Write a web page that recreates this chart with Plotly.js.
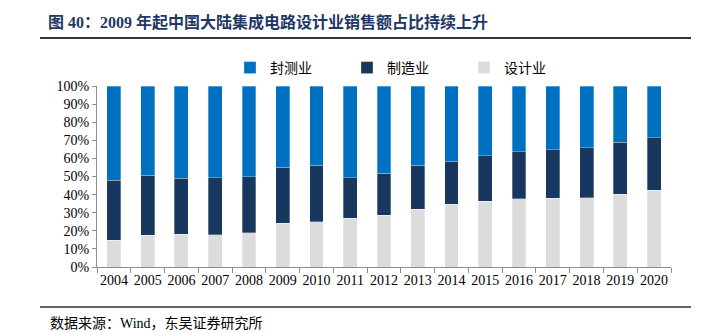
<!DOCTYPE html>
<html>
<head>
<meta charset="utf-8">
<script src="https://cdn.plot.ly/plotly-3.0.1.min.js"></script>
<style>html,body{margin:0;padding:0;background:#fff;}#chart{width:701px;height:333px;}</style>
</head>
<body>
<div id="chart"></div>
<script>
const years = ['2004','2005','2006','2007','2008','2009','2010','2011','2012','2013','2014','2015','2016','2017','2018','2019','2020'];
// shares in percent
const design = [14.7,17.5,18.2,17.8,18.8,24.3,25.0,27.0,28.7,32.0,34.6,36.4,37.7,38.1,38.4,40.3,42.5];
const manufacturing = [33.1,33.1,30.9,31.6,31.2,30.7,31.1,22.4,23.0,24.1,23.7,25.2,26.1,26.8,27.6,28.5,29.0];
const packaging = [52.2,49.4,50.9,50.6,50.0,45.0,43.9,50.6,48.3,43.9,41.7,38.4,36.2,35.1,34.0,31.2,28.5];

const names = ['设计业','制造业','封测业'];
const colors = ['#DCDCDC','#17375E','#0070C0'];
const series = [design, manufacturing, packaging];

const traces = series.map((v,i)=>({
  type:'bar', x: years, y: v, name: names[i],
  marker:{color: colors[i], line:{color:'rgba(255,255,255,0.6)', width:0.5}},
  hoverinfo:'x+y+name'
}));

const L=97, R=671, T=86, B=267;
const pw=R-L, ph=B-T;
const px = x => (x-L)/pw;
const py = y => (B-y)/ph;

const layout = {
  width:701, height:333,
  margin:{l:L, r:701-R, t:T, b:333-B},
  paper_bgcolor:'#fff', plot_bgcolor:'#fff',
  barmode:'stack', bargap:0.59,
  showlegend:true,
  legend:{orientation:'h', x:px(230), y:py(68), xanchor:'left', yanchor:'middle',
    traceorder:'reversed', entrywidth:72, entrywidthmode:'pixels', bgcolor:'rgba(0,0,0,0)',
    font:{family:'Noto Sans CJK SC', size:14, color:'#000'}, itemclick:false},
  title:{text:'图 40：2009 年起中国大陆集成电路设计业销售额占比持续上升',
    x:48/701, xanchor:'left', y:1-22/333, yanchor:'middle',
    font:{family:'Liberation Serif, Noto Sans CJK SC', size:16, color:'#1F3864', weight:'bold'}},
  xaxis:{type:'category', showline:true, linecolor:'#8c8c8c', linewidth:1,
    ticks:'outside', tickson:'boundaries', ticklen:5, tickcolor:'#8c8c8c', tickangle:0,
    showgrid:false, zeroline:false,
    tickfont:{family:'Liberation Serif', size:14, color:'#000'}},
  yaxis:{range:[0,100], dtick:10, ticksuffix:'%', showline:true, linecolor:'#8c8c8c', linewidth:1,
    ticks:'outside', ticklen:4, tickcolor:'#8c8c8c', showgrid:false, zeroline:false,
    tickfont:{family:'Liberation Serif', size:14, color:'#000'}},
  shapes:[
    {type:'line', xref:'paper', yref:'paper', x0:px(40), x1:px(691), y0:py(38), y1:py(38), line:{color:'#333', width:2}},
    {type:'line', xref:'paper', yref:'paper', x0:px(40), x1:px(691), y0:py(307), y1:py(307), line:{color:'#333', width:1.5}}
  ],
  annotations:[
    {text:'数据来源：Wind，东吴证券研究所', xref:'paper', yref:'paper', x:px(48), y:py(323),
     xanchor:'left', yanchor:'middle', showarrow:false,
     font:{family:'Liberation Serif, Noto Sans CJK SC', size:14, color:'#000'}}
  ]
};

Plotly.newPlot('chart', traces, layout, {displayModeBar:false, staticPlot:true});
</script>
</body>
</html>
